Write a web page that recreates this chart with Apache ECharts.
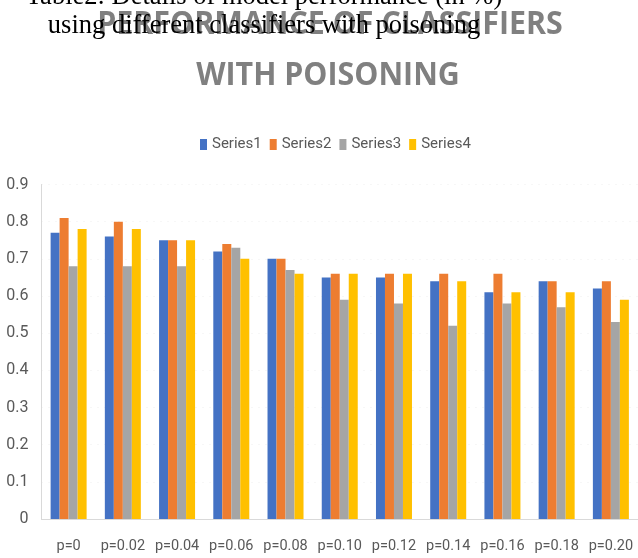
<!DOCTYPE html>
<html>
<head>
<meta charset="utf-8">
<script src="https://cdn.jsdelivr.net/npm/echarts@6/dist/echarts.min.js"></script>
<style>
html,body{margin:0;padding:0;background:#fff;}
#c{width:638px;height:558px;}
</style>
</head>
<body>
<div id="c"></div>
<script>
const categories = ['p=0','p=0.02','p=0.04','p=0.06','p=0.08','p=0.10','p=0.12','p=0.14','p=0.16','p=0.18','p=0.20'];
const series1 = [0.77,0.76,0.75,0.72,0.70,0.65,0.65,0.64,0.61,0.64,0.62];
const series2 = [0.81,0.80,0.75,0.74,0.70,0.66,0.66,0.66,0.66,0.64,0.64];
const series3 = [0.68,0.68,0.68,0.73,0.67,0.59,0.58,0.52,0.58,0.57,0.53];
const series4 = [0.78,0.78,0.75,0.70,0.66,0.66,0.66,0.64,0.61,0.61,0.59];
const seriesNames = ['Series1','Series2','Series3','Series4'];
const colors = ['#4472C4','#ED7D31','#A5A5A5','#FFC000'];

const labelFont = '"Roboto", sans-serif';
const chart = echarts.init(document.getElementById('c'), null, {renderer:'canvas'});
const data = [series1, series2, series3, series4];

chart.setOption({
  animation:false,
  backgroundColor:'#fff',
  graphic:[
    {type:'text', x:330, y:25, scaleX:0.92, z:10,
     style:{text:'PERFORMANCE OF CLASSIFIERS', fill:'#808080', font:'bold 33px "Open Sans"', textAlign:'center', textVerticalAlign:'middle'}},
    {type:'text', x:328, y:76, scaleX:0.92, z:10,
     style:{text:'WITH POISONING', fill:'#808080', font:'bold 33px "Open Sans"', textAlign:'center', textVerticalAlign:'middle'}},
    {type:'text', x:264, y:-3, z:20,
     style:{text:'Table2: Details of model performance (in %)', fill:'#000', font:'26.5px "Liberation Serif"', textAlign:'center', textVerticalAlign:'middle'}},
    {type:'text', x:264, y:26, z:20,
     style:{text:'using different classifiers with poisoning', fill:'#000', font:'26.5px "Liberation Serif"', textAlign:'center', textVerticalAlign:'middle'}}
  ],
  legend:{
    data:seriesNames,
    left:195, top:132,
    itemWidth:7, itemHeight:11, itemGap:8,
    icon:'rect',
    textStyle:{color:'#595959', fontSize:15, fontFamily:labelFont}
  },
  grid:{left:41.5, top:184.5, width:602, bottom:39, containLabel:false},
  xAxis:{
    type:'category', data:categories,
    axisLine:{show:true, lineStyle:{color:'#d9d9d9', width:1}},
    axisTick:{show:false},
    axisLabel:{color:'#595959', fontSize:14.5, fontFamily:labelFont, margin:20, interval:0}
  },
  yAxis:{
    type:'value', min:0, max:0.9, interval:0.1,
    axisLine:{show:true, lineStyle:{color:'#d9d9d9', width:1}},
    axisTick:{show:false},
    splitLine:{show:true, lineStyle:{color:'#eeeeee', type:[1,6]}},
    axisLabel:{color:'#595959', fontSize:16, fontFamily:labelFont, margin:13,
      formatter:function(v){return v===0?'0':v.toFixed(1);}}
  },
  series:data.map((d,i)=>({
    name:seriesNames[i], type:'bar', data:d,
    barWidth:9, barGap:'0%',
    itemStyle:{color:colors[i]}
  }))
});
</script>
</body>
</html>
